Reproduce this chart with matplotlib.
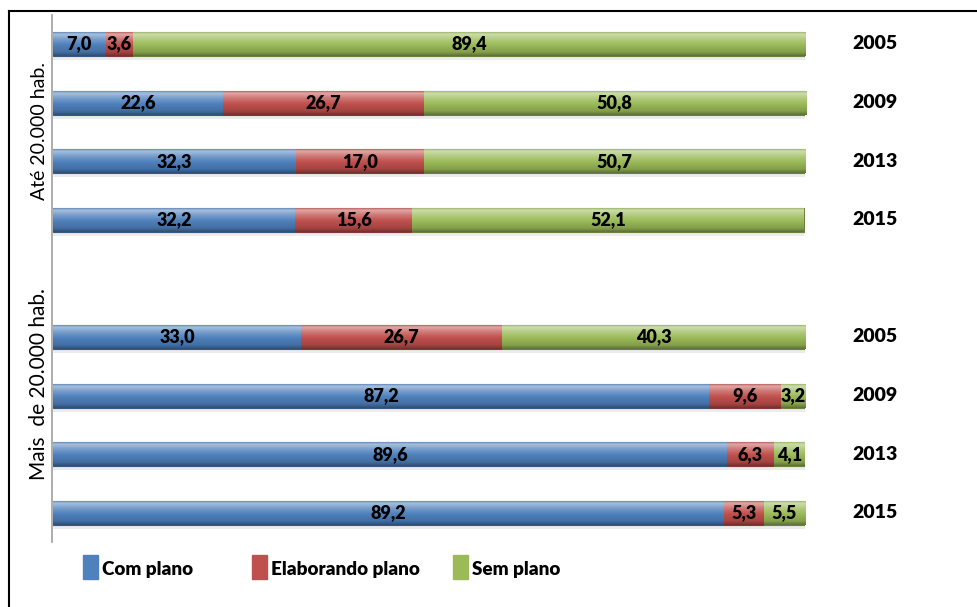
import numpy as np
import matplotlib.pyplot as plt
from matplotlib.colors import to_rgb
from matplotlib.patches import Rectangle
from matplotlib.lines import Line2D

plt.rcParams['font.family'] = ['Lato', 'DejaVu Sans']

groups = ['Até 20.000 hab.', 'Mais  de 20.000 hab.']
years = ['2005', '2009', '2013', '2015']
series = ['Com plano', 'Elaborando plano', 'Sem plano']
com_plano = [7.0, 22.6, 32.3, 32.2, 33.0, 87.2, 89.6, 89.2]
elaborando = [3.6, 26.7, 17.0, 15.6, 26.7, 9.6, 6.3, 5.3]
sem_plano = [89.4, 50.8, 50.7, 52.1, 40.3, 3.2, 4.1, 5.5]
colors = ['#4F81BD', '#C0504D', '#9BBB59']

# rows 0-3 first group, 4 empty, 5-8 second group
ypos = np.array([0, 1, 2, 3, 5, 6, 7, 8])
bar_h = 0.41

fig = plt.figure(figsize=(9.77, 6.07), dpi=100)
ax = fig.add_axes([53 / 977, 1 - 542 / 607, (805 - 53) / 977, (542 - 14.7) / 607])


def gradient(color):
    base = np.array(to_rgb(color))
    light = base + (1 - base) * 0.5
    dark = base * 0.6
    stops = [(0.0, base * 0.9), (0.12, light), (0.3, light * 0.5 + base * 0.5),
             (0.55, base), (0.85, base * 0.85), (1.0, dark)]
    t = np.linspace(0, 1, 60)
    rgb = np.zeros((60, 3))
    for c in range(3):
        rgb[:, c] = np.interp(t, [s[0] for s in stops], [s[1][c] for s in stops])
    return np.clip(rgb[:, None, :], 0, 1)


left = np.zeros(len(ypos))
all_vals = [com_plano, elaborando, sem_plano]
for vals, col in zip(all_vals, colors):
    vals = np.array(vals)
    # soft shadow
    ax.barh(ypos + 0.07, vals, bar_h, left=left, color='#999999', alpha=0.18,
            linewidth=0, zorder=1)
    bars = ax.barh(ypos, vals, bar_h, left=left, color=col,
                   edgecolor=np.array(to_rgb(col)) * 0.7, linewidth=0.8, zorder=2)
    for p in bars:
        x0, y0, w, h = p.get_x(), p.get_y(), p.get_width(), p.get_height()
        im = ax.imshow(gradient(col), extent=(x0, x0 + w, y0 + h, y0),
                       aspect='auto', zorder=2.5, interpolation='bilinear')
        im.set_clip_path(p)
    for y, l, v in zip(ypos, left, vals):
        ax.text(l + v / 2, y, f'{v:.1f}'.replace('.', ','), ha='center', va='center',
                fontsize=13, fontweight='heavy', color='black', zorder=4)
    left = left + vals

for y, yr in zip(ypos, years * 2):
    ax.text(109.3, y, yr, ha='center', va='center', fontsize=14,
            fontweight='heavy', clip_on=False)

ax.text(-1.86, 1.48, groups[0], rotation=90, ha='center', va='center', fontsize=14)
ax.text(-1.86, 5.8, groups[1], rotation=90, ha='center', va='center', fontsize=15)

ax.set_xlim(0, 100)
ax.set_ylim(8.5, -0.5)
ax.set_xticks([])
ax.set_yticks([])
for s in ['top', 'right', 'bottom']:
    ax.spines[s].set_visible(False)
ax.spines['left'].set_color('#A0A0A0')
ax.spines['left'].set_linewidth(1.2)
ax.spines['left'].set_position(('data', -0.15))

# legend
leg_x = [83, 252, 453]
for x, col, name in zip(leg_x, colors, series):
    fig.add_artist(Rectangle((x / 977, 1 - 579 / 607), 15 / 977, 24 / 607,
                             transform=fig.transFigure, color=col))
    fig.text((x + 19) / 977, 1 - 569 / 607, name, ha='left', va='center',
             fontsize=13.6, fontweight='heavy')

# outer frame
fig.add_artist(Line2D([9 / 977, 9 / 977], [0, 1 - 11 / 607], color='black', lw=1.5,
                      transform=fig.transFigure))
fig.add_artist(Line2D([9 / 977, 1], [1 - 11 / 607, 1 - 11 / 607], color='black', lw=1.5,
                      transform=fig.transFigure))

fig.savefig('out.png', dpi=100)
